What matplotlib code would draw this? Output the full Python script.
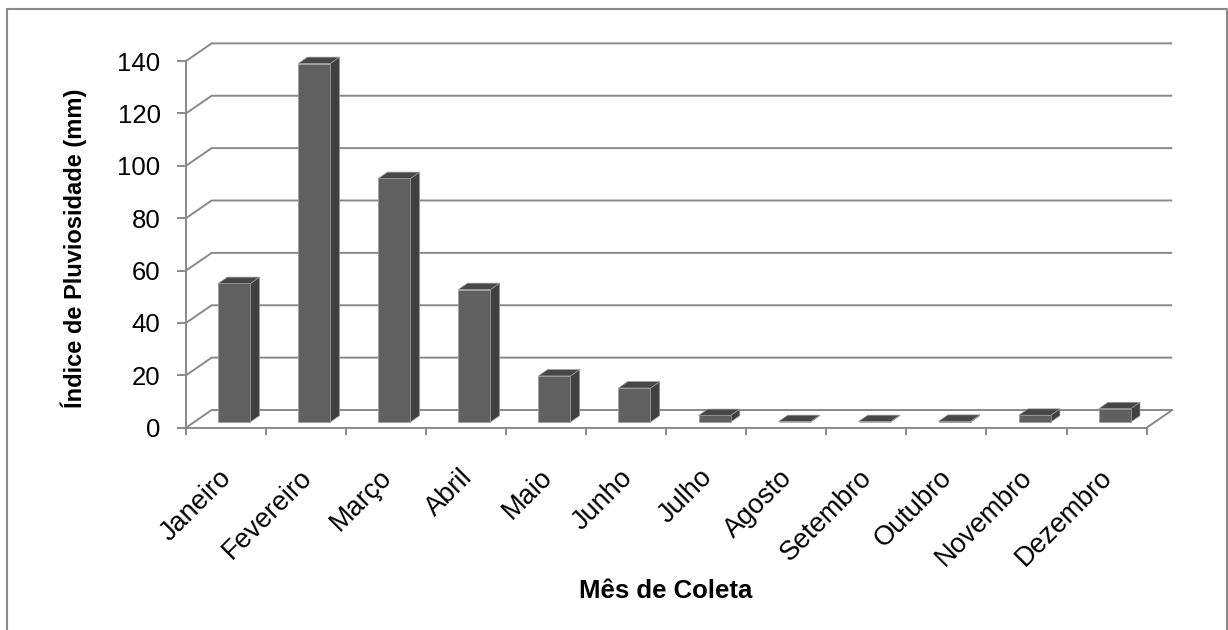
import matplotlib
matplotlib.use("Agg")
import matplotlib.pyplot as plt
from matplotlib.patches import Polygon, Rectangle

plt.rcParams['font.family'] = ['Liberation Sans', 'DejaVu Sans']

# Monthly rainfall data
months = ["Janeiro", "Fevereiro", "Março", "Abril", "Maio", "Junho",
          "Julho", "Agosto", "Setembro", "Outubro", "Novembro", "Dezembro"]
rainfall_mm = [52.9, 136.9, 93.0, 50.6, 17.6, 13.0, 2.5, 0.2, 0.2, 0.3, 2.6, 5.1]
y_ticks = [0, 20, 40, 60, 80, 100, 120, 140]
y_label = "Índice de Pluviosidade (mm)"
x_label = "Mês de Coleta"

W, H = 1228, 630
fig = plt.figure(figsize=(W / 100, H / 100), dpi=100)

# axes placed so that one category is ~80 px and one mm is ~2.62 px
x0_px, xunit_px = 186, 80.05
y0_px, yunit_px = 427.7, 2.619
XMAX, YMAX = 12.6, 152
ax = fig.add_axes([x0_px / W, (H - y0_px) / H,
                   XMAX * xunit_px / W, YMAX * yunit_px / H])
ax.set_xlim(0, XMAX)
ax.set_ylim(0, YMAX)
ax.patch.set_alpha(0)

# pseudo-3D depth of the chart box (in data units)
DX, DY = 0.32, 6.75
n = len(months)
grid_col = "#898989"
grid_lw = 1.4

# walls: side diagonals + back gridlines
for v in y_ticks:
    ax.plot([0, DX, n + DX], [v, v + DY, v + DY], color=grid_col,
            lw=grid_lw, solid_capstyle="butt", zorder=1, clip_on=False)
# floor right edge
ax.plot([n, n + DX], [0, DY], color=grid_col, lw=grid_lw, zorder=1, clip_on=False)

# 3D columns
BAR_W = 0.4
F0, F1 = 0.32, 0.68
front_col, side_col, top_col = "#606060", "#404040", "#474747"
edge_col = "#9a9a9a"
for i, v in enumerate(rainfall_mm):
    c = i + 0.5
    xl = c - BAR_W / 2 + F0 * DX
    xr = c + BAR_W / 2 + F0 * DX
    yb = F0 * DY
    yt = v + F0 * DY
    ddx, ddy = (F1 - F0) * DX, (F1 - F0) * DY
    front = Polygon([(xl, yb), (xr, yb), (xr, yt), (xl, yt)], closed=True,
                    facecolor=front_col, edgecolor=edge_col, lw=0.5, zorder=3)
    side = Polygon([(xr, yb), (xr + ddx, yb + ddy), (xr + ddx, yt + ddy), (xr, yt)],
                   closed=True, facecolor=side_col, edgecolor=edge_col, lw=0.5, zorder=3)
    top = Polygon([(xl, yt), (xr, yt), (xr + ddx, yt + ddy), (xl + ddx, yt + ddy)],
                  closed=True, facecolor=top_col, edgecolor=edge_col, lw=0.5, zorder=3)
    for p in (side, top, front):
        ax.add_patch(p)

# front axes
for s in ("top", "right"):
    ax.spines[s].set_visible(False)
ax.spines["left"].set_bounds(0, 140)
ax.spines["bottom"].set_bounds(0, n)
for s in ("left", "bottom"):
    ax.spines[s].set_color(grid_col)
    ax.spines[s].set_linewidth(grid_lw)
    ax.spines[s].set_zorder(2)

ax.set_yticks(y_ticks)
ax.set_yticklabels([str(t) for t in y_ticks])
ax.tick_params(axis="y", length=6.3, width=grid_lw, color=grid_col,
               pad=12, labelsize=18.5)
ax.set_xticks(range(n + 1))
ax.set_xticklabels([])
ax.tick_params(axis="x", length=5, width=grid_lw, color=grid_col)

# rotated month labels
for i, m in enumerate(months):
    ax.annotate(m, xy=(i + 0.5, 0), xytext=(2, -46), textcoords="offset pixels",
                rotation=45, rotation_mode="anchor", ha="right", va="center",
                fontsize=19.5, color="black", annotation_clip=False)

# axis titles
fig.text(666 / W, 1 - 591 / H, x_label, ha="center", va="center",
         fontsize=18.5, fontweight="bold")
fig.text(74 / W, 1 - 248 / H, y_label, ha="center", va="center",
         rotation=90, fontsize=17, fontweight="bold")

# chart border
fig.add_artist(Rectangle((7 / W, -0.05), (1227 - 7) / W, 1 - 9 / H + 0.05,
                         transform=fig.transFigure, fill=False,
                         edgecolor="#8a8a8a", lw=1.5))

fig.savefig("out.png", dpi=100)
